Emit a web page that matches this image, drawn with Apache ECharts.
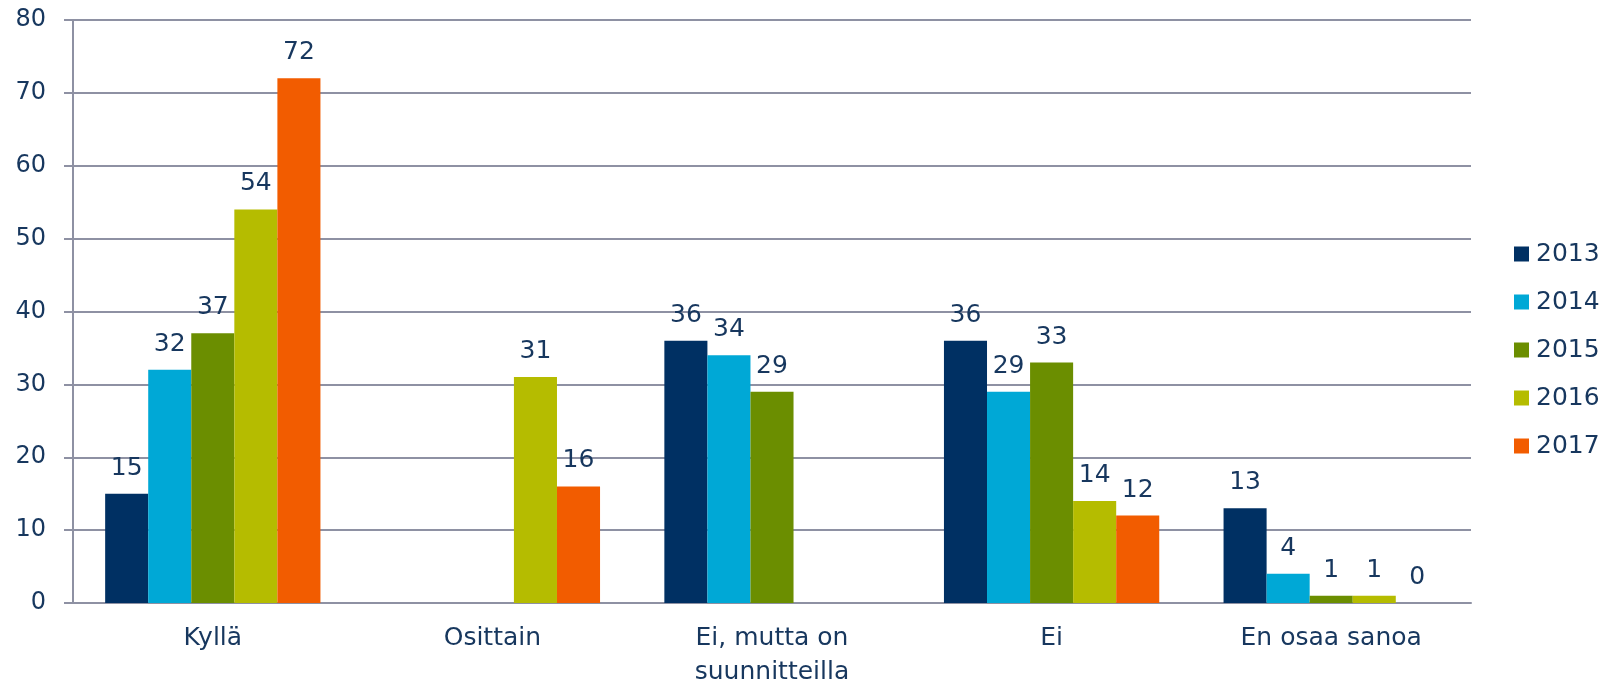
<!DOCTYPE html>
<html>
<head>
<meta charset="utf-8">
<script src="https://cdn.jsdelivr.net/npm/echarts@6/dist/echarts.min.js"></script>
<style>
html,body{margin:0;padding:0;background:#fff;}
#chart{width:1606px;height:683px;}
</style>
</head>
<body>
<div id="chart"></div>
<script>
var categories = ['Kyllä', 'Osittain', 'Ei, mutta on\nsuunnitteilla', 'Ei', 'En osaa sanoa'];
var years = ['2013', '2014', '2015', '2016', '2017'];
var v2013 = [15, null, 36, 36, 13];
var v2014 = [32, null, 34, 29, 4];
var v2015 = [37, null, 29, 33, 1];
var v2016 = [54, 31, null, 14, 1];
var v2017 = [72, 16, null, 12, 0];
var yTicks = [0, 10, 20, 30, 40, 50, 60, 70, 80];

var colors = ['#003063', '#00A8D6', '#6B8E00', '#B5BC00', '#F25C00'];
var values = [v2013, v2014, v2015, v2016, v2017];
var textColor = '#17375E';
var font = 'DejaVu Sans, Verdana, sans-serif';

var myChart = echarts.init(document.getElementById('chart'));

var seriesval = [];
for (var i = 0; i < years.length; i++) {
	seriesval.push({
		name: years[i],
		type: 'bar',
		barGap: '0%',
		barCategoryGap: '23%',
		itemStyle: { color: colors[i] },
		label: {
			show: true,
			position: 'top',
			distance: 13,
			color: textColor,
			fontFamily: font,
			fontSize: 25
		},
		data: values[i]
	});
}

var option = {
	animation: false,
	color: colors,
	legend: {
		orient: 'vertical',
		left: 1509,
		top: 236,
		itemWidth: 15,
		itemHeight: 15,
		itemGap: 22,
		icon: 'rect',
		data: years,
		textStyle: {
			color: textColor,
			fontFamily: font,
			fontSize: 25,
			lineHeight: 26,
			padding: [0, 0, 0, 2]
		}
	},
	grid: {
		left: 73,
		right: 135,
		top: 20,
		bottom: 80,
		containLabel: false,
		outerBoundsMode: 'none'
	},
	xAxis: {
		type: 'category',
		data: categories,
		axisLine: { lineStyle: { color: '#8E91A3', width: 2 } },
		axisTick: { length: 9, lineStyle: { color: '#8E91A3', width: 2 } },
		axisLabel: {
			color: textColor,
			fontFamily: font,
			fontSize: 25,
			lineHeight: 34,
			margin: 18,
			interval: 0
		}
	},
	yAxis: {
		type: 'value',
		min: yTicks[0],
		max: yTicks[yTicks.length - 1],
		interval: 10,
		axisLine: { show: true, lineStyle: { color: '#8E91A3', width: 2 } },
		axisTick: { show: true, length: 9, lineStyle: { color: '#8E91A3', width: 2 } },
		splitLine: { lineStyle: { color: '#8E91A3', width: 2 } },
		axisLabel: {
			color: textColor,
			fontFamily: font,
			fontSize: 24,
			margin: 27
		}
	},
	series: seriesval
};
myChart.setOption(option, true);
</script>
</body>
</html>
